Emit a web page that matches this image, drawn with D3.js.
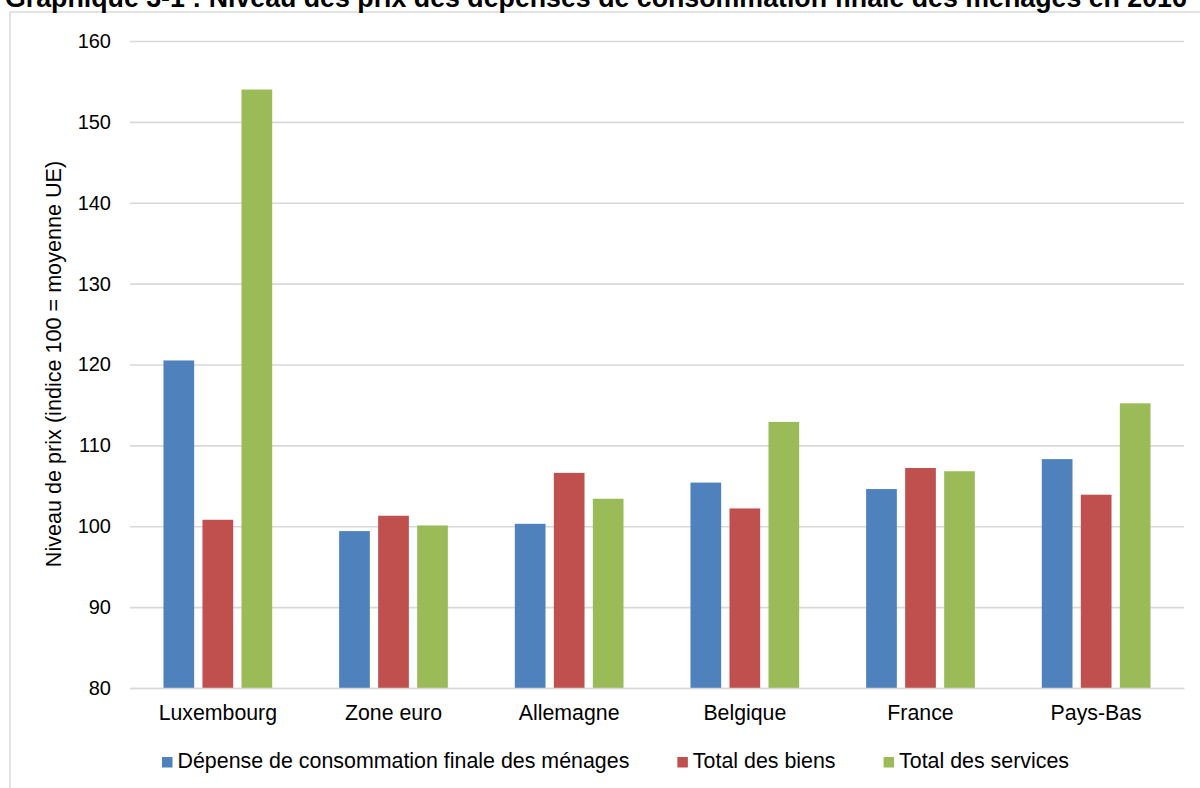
<!DOCTYPE html>
<html lang="fr">
<head>
<meta charset="utf-8">
<script src="https://cdn.jsdelivr.net/npm/d3@7"></script>
<style>
  html, body { margin: 0; padding: 0; background: #fff; }
  svg { display: block; font-family: "Liberation Sans", Arial, sans-serif; }
</style>
</head>
<body>
<svg id="chart" width="1200" height="788"></svg>
<script>
// Niveau des prix (indice 100 = moyenne UE), 2016
const categories = ["Luxembourg", "Zone euro", "Allemagne", "Belgique", "France", "Pays-Bas"];
const seriesNames = ["Dépense de consommation finale des ménages", "Total des biens", "Total des services"];
const depenseMenages = [120.5, 99.4, 100.3, 105.4, 104.6, 108.3];
const totalBiens = [100.8, 101.3, 106.6, 102.2, 107.2, 103.9];
const totalServices = [154.0, 100.1, 103.4, 112.9, 106.8, 115.2];
const yTicks = [80, 90, 100, 110, 120, 130, 140, 150, 160];
const titleText = "Graphique 3-1 : Niveau des prix des dépenses de consommation finale des ménages en 2016";
const yTitle = "Niveau de prix (indice 100 = moyenne UE)";

const seriesValues = [depenseMenages, totalBiens, totalServices];
const colors = ["#4F81BD", "#C0504D", "#9BBB59"];

const svg = d3.select("#chart");
const plot = { left: 130, right: 1184, top: 41, bottom: 688 };
const gridColor = "#d9d9d9";
const textColor = "#000";

// Outer chart frame
svg.append("rect")
  .attr("x", 10).attr("y", 12)
  .attr("width", 1220).attr("height", 800)
  .attr("fill", "none")
  .attr("stroke", gridColor)
  .attr("stroke-width", 1.5);

// Title, sized to span the page width
const title = svg.append("text")
  .attr("x", 5).attr("y", 7)
  .attr("font-weight", "bold")
  .attr("font-size", 24)
  .attr("fill", textColor)
  .text(titleText);
const tw = title.node().getComputedTextLength();
title.attr("font-size", 24 * 1182 / tw);

const x0 = d3.scaleBand().domain(categories).range([plot.left, plot.right]).padding(0);
const x1 = d3.scaleBand().domain(d3.range(seriesNames.length))
  .range([0, x0.bandwidth()]).paddingInner(0.213).paddingOuter(0.858);
const y = d3.scaleLinear().domain([80, 160]).range([plot.bottom, plot.top]);

// Horizontal gridlines
const yAxis = d3.axisLeft(y).tickValues(yTicks).tickSize(-(plot.right - plot.left)).tickPadding(19);
const gy = svg.append("g").attr("transform", `translate(${plot.left},0)`).call(yAxis);
gy.select(".domain").remove();
gy.selectAll(".tick line").attr("stroke", gridColor).attr("stroke-width", 1.6);
gy.selectAll(".tick text")
  .attr("font-size", 20)
  .attr("font-family", "Liberation Sans, Arial, sans-serif")
  .attr("fill", textColor);

// Bars
categories.forEach((cat, i) => {
  seriesValues.forEach((vals, s) => {
    svg.append("rect")
      .attr("x", x0(cat) + x1(s))
      .attr("y", y(vals[i]))
      .attr("width", x1.bandwidth())
      .attr("height", y(80) - y(vals[i]))
      .attr("fill", colors[s]);
  });
});

// Category axis
const xAxis = d3.axisBottom(x0).tickSize(0).tickPadding(17);
const gx = svg.append("g").attr("transform", `translate(0,${plot.bottom})`).call(xAxis);
gx.select(".domain").attr("stroke", gridColor).attr("stroke-width", 1.6);
gx.selectAll(".tick text")
  .attr("font-size", 21.3)
  .attr("font-family", "Liberation Sans, Arial, sans-serif")
  .attr("fill", textColor);

// Y axis title
svg.append("text")
  .attr("transform", `translate(61,364) rotate(-90)`)
  .attr("text-anchor", "middle")
  .attr("font-size", 21.6)
  .attr("fill", textColor)
  .text(yTitle);

// Legend
const legend = svg.append("g");
let lx = 162;
seriesNames.forEach((name, s) => {
  legend.append("rect")
    .attr("x", lx).attr("y", 757)
    .attr("width", 10.5).attr("height", 10.5)
    .attr("fill", colors[s]);
  const t = legend.append("text")
    .attr("x", lx + 15.5).attr("y", 768)
    .attr("font-size", 21.4)
    .attr("fill", textColor)
    .text(name);
  lx += 15.5 + t.node().getComputedTextLength() + 48;
});
</script>
</body>
</html>
